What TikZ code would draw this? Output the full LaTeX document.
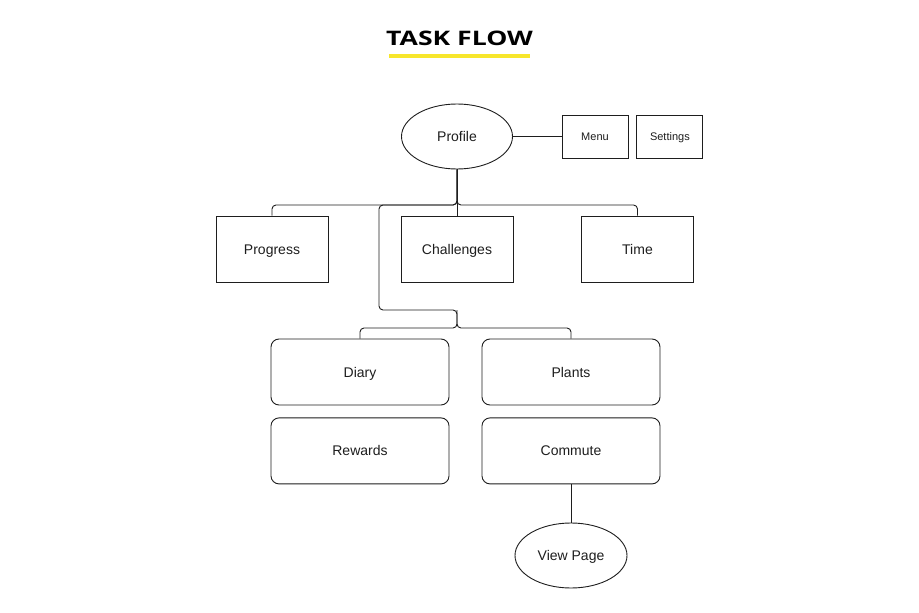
\documentclass[tikz,border=0pt]{standalone}
\usepackage{fontspec}
\setmainfont{Liberation Sans}
\newfontfamily\headfont{Open Sans}
\usepackage{tikz}
\usetikzlibrary{shapes.geometric,positioning}
\definecolor{ink}{HTML}{1E1E1E}
\definecolor{hilite}{HTML}{F7E62B}
\tikzset{
  wire/.style={draw=ink, line width=0.9pt, rounded corners=4pt},
  box/.style={draw=ink, line width=0.9pt, text=ink, minimum width=112pt, minimum height=66pt, inner sep=0pt,
    text height=12pt, text depth=2pt, font=\fontsize{14}{16}\selectfont},
  smallbox/.style={box, minimum width=66pt, minimum height=43pt, text height=9pt, text depth=1.2pt, font=\fontsize{11}{13}\selectfont},
  card/.style={box, rounded corners=8pt, minimum width=178pt},
  oval/.style={box, ellipse, minimum width=111pt, minimum height=65pt},
  head/.style={text=black, inner sep=0pt, font=\headfont\bfseries\fontsize{20}{24}\selectfont},
}

\begin{document}
\begin{tikzpicture}[x=1pt, y=-1pt]
  \fill[white] (0,0) rectangle (919,613);

  % title
  \node[head] (title) at (459.5,38) {\scalebox{1.33}[1]{TASK FLOW}};
  \fill[hilite] (389,54) rectangle (530,58);

  \node[oval] (profile) at (457,136.5) {Profile};
  \node[smallbox] (menu) at (595,136.5) {Menu};
  \node[smallbox, right=8pt of menu] (settings) {Settings};

  \node[box] (progress) at (272,249) {Progress};
  \node[box] (challenges) at (457,249) {Challenges};
  \node[box] (time) at (637.5,249) {Time};

  \node[card] (diary) at (360,372) {Diary};
  \node[card] (plants) at (571,372) {Plants};
  \node[card, below=12pt of diary] (rewards) {Rewards};
  \node[card, below=12pt of plants] (commute) {Commute};
  \node[oval, minimum width=112pt] (view) at (571,555.5) {View Page};

  % bus lines
  \coordinate (bus) at (0,205);
  \coordinate (bend) at (0,310);
  \coordinate (bus2) at (0,328);
  \coordinate (drop) at (379,0);

  \draw[wire] (profile.east) -- (menu.west);
  \draw[wire] (profile.south) |- (progress.north |- bus) -- (progress.north);
  \draw[wire] (profile.south) |- (time.north |- bus) -- (time.north);
  \draw[wire] (profile.south) -- (challenges.north);
  \draw[wire] (profile.south) |- (drop |- bus) |- (profile.south |- bend) |- (diary.north |- bus2) -- (diary.north);
  \draw[wire] (profile.south |- bend) |- (plants.north |- bus2) -- (plants.north);
  \draw[wire] (commute.south) -- (view.north);
\end{tikzpicture}
\end{document}
